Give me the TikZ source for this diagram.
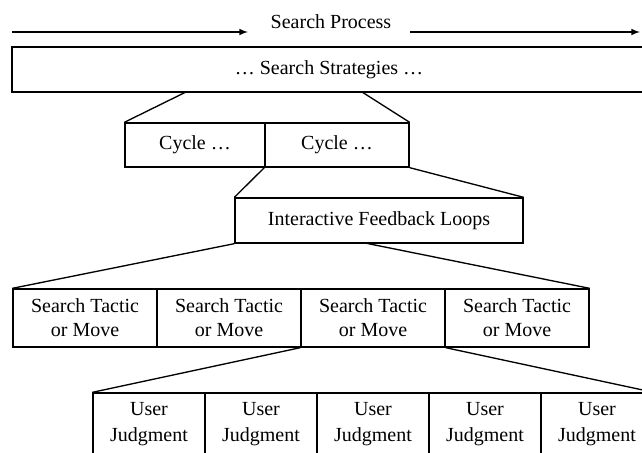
\documentclass[tikz,border=0pt]{standalone}
\usepackage{fontspec}
\setmainfont{Liberation Serif}
\usetikzlibrary{arrows}

\begin{document}
\begin{tikzpicture}[x=0.6pt,y=-0.6pt]
          \tikzset{ box/.style ={draw=black, line width=0.8pt, inner sep=0pt, align=center, font=\fontsize{12}{14.4}\selectfont} }
          \tikzset{ tac/.style ={box, minimum width=86.4pt, minimum height=34.8pt} }
          \tikzset{ usr/.style ={box, minimum width=67.2pt, minimum height=37.2pt, font=\fontsize{12}{16}\selectfont} }
          \tikzset{ lnk/.style ={draw=black, line width=0.8pt} }

          \useasboundingbox (0,0) rectangle (642,452);

          \node[font=\fontsize{12}{14.4}\selectfont] (proc) at (331,22) {Search Process};
          \coordinate (p_a) at (12,32);
          \coordinate (p_b) at (248,32);
          \coordinate (p_c) at (410,32);
          \coordinate (p_d) at (640,32);

          \draw[->,>=latex,lnk] (p_a) -- (p_b);
          \draw[->,>=latex,lnk] (p_c) -- (p_d);

          \node[box, minimum width=380.4pt, minimum height=27pt] (strat) at (329,69.5) {\dots{} Search Strategies \dots};
          \coordinate (s_a) at (186,92);
          \coordinate (s_b) at (362,92);

          \node[box, minimum width=84pt,   minimum height=26.4pt] (cyc1) at (195,145) {Cycle \dots};
          \node[box, minimum width=86.4pt, minimum height=26.4pt] (cyc2) at (337,145) {Cycle \dots};

          \node[box, minimum width=172.8pt, minimum height=27pt] (ifl) at (379,220.5) {Interactive Feedback Loops};
          \coordinate (i_b) at (365,243);

          \node[tac] (tac1) at (85,318)  {Search Tactic\\or Move};
          \node[tac] (tac2) at (229,318) {Search Tactic\\or Move};
          \node[tac] (tac3) at (373,318) {Search Tactic\\or Move};
          \node[tac] (tac4) at (517,318) {Search Tactic\\or Move};

          \node[usr] (usr1) at (149,424) {User\\Judgment};
          \node[usr] (usr2) at (261,424) {User\\Judgment};
          \node[usr] (usr3) at (373,424) {User\\Judgment};
          \node[usr] (usr4) at (485,424) {User\\Judgment};
          \node[usr] (usr5) at (597,424) {User\\Judgment};

          \draw[lnk] (s_a) -- (cyc1.north west);
          \draw[lnk] (s_b) -- (cyc2.north east);
          \draw[lnk] (cyc2.south west) -- (ifl.north west);
          \draw[lnk] (cyc2.south east) -- (ifl.north east);
          \draw[lnk] (ifl.south west) -- (tac1.north west);
          \draw[lnk] (i_b) -- (tac4.north east);
          \draw[lnk] (tac3.south west) -- (usr1.north west);
          \draw[lnk] (tac3.south east) -- (usr5.north east);
      \end{tikzpicture}
\end{document}
